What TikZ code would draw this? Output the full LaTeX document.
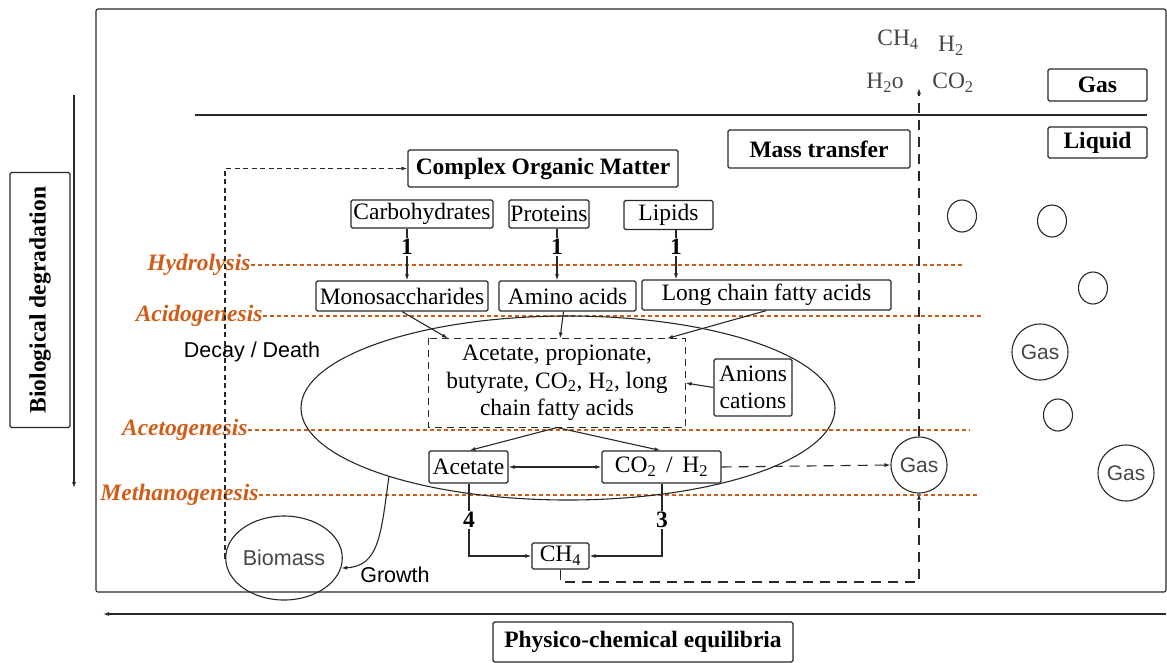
\documentclass[tikz,border=0pt]{standalone}
\usepackage{fontspec}
\setmainfont{Liberation Serif}
\setsansfont{Liberation Sans}
\usetikzlibrary{arrows.meta,shapes.geometric,calc}

\definecolor{ink}{RGB}{40,40,40}
\definecolor{greytext}{RGB}{70,70,70}
\definecolor{stage}{RGB}{208,92,24}

\begin{document}
\begin{tikzpicture}[x=1pt,y=-1pt,
  font=\fontsize{23.5}{27.5}\selectfont,
  >={Latex[length=6pt,width=4pt]},
  line width=1.1pt, draw=ink,
  box/.style={draw=ink, rounded corners=1.5pt, inner sep=0pt, align=center},
  boldbox/.style={box, font=\fontsize{23.5}{27.5}\selectfont\bfseries},
  num/.style={inner sep=1pt, font=\fontsize{23.5}{27.5}\selectfont\bfseries},
  sanslabel/.style={inner sep=0pt, font=\fontsize{21.5}{25}\selectfont\sffamily},
  gasball/.style={circle, draw=ink, minimum size=56pt, inner sep=0pt,
    text=greytext, font=\fontsize{21}{24}\selectfont\sffamily},
  bubble/.style={ellipse, draw=ink, minimum width=29pt, minimum height=32pt, inner sep=0pt},
  species/.style={inner sep=0pt, text=greytext},
  stagelabel/.style={inner sep=0pt, anchor=east, text=stage,
    font=\fontsize{23.5}{27.5}\selectfont\bfseries\itshape},
  stageline/.style={draw=stage, line width=1.1pt, dash pattern=on 4pt off 3pt},
  bigdash/.style={dash pattern=on 10pt off 7pt},
  smalldash/.style={dash pattern=on 5pt off 3.5pt},
]
\useasboundingbox (0,0) rectangle (1167,662);

% reactor frame and gas/liquid interface
\draw[rounded corners=2pt] (96,9) rectangle (1166,592);
\coordinate (ifL) at (195,115);
\coordinate (ifR) at (1147,115);
\draw (ifL) -- (ifR);

% phase labels
\node[boldbox, minimum width=99pt, minimum height=32pt] (gasbox) at (1097.5,85) {Gas};
\node[boldbox, minimum width=99pt, minimum height=31pt] (liqbox) at (1097.5,142.5) {Liquid};
\node[boldbox, minimum width=182pt, minimum height=38pt] (mass) at (819,149) {Mass transfer};

% biological degradation axis
\node[boldbox, rotate=90, minimum width=255pt, minimum height=60pt] (bio) at (40,300) {Biological degradation};
\coordinate (bioTop) at (74,95);
\coordinate (bioBot) at (74,488);
\draw[->] (bioTop) -- (bioBot);

% physico-chemical axis
\coordinate (pcR) at (1166,614);
\coordinate (pcL) at (103,614);
\draw[->] (pcR) -- (pcL);
\node[boldbox, minimum width=300pt, minimum height=40pt] (phys) at (643,642) {Physico-chemical equilibria};

% stage boundaries
\node[stagelabel] (hyd) at (251,265) {Hydrolysis};
\coordinate (hydE) at (963,265);
\draw[stageline] (hyd.east) -- (hydE);
\node[stagelabel] (acid) at (263,316) {Acidogenesis};
\coordinate (acidE) at (983,316);
\draw[stageline] (acid.east) -- (acidE);
\node[stagelabel] (aceto) at (248,430) {Acetogenesis};
\coordinate (acetoE) at (970,430);
\draw[stageline] (aceto.east) -- (acetoE);
\node[stagelabel] (meth) at (259,495) {Methanogenesis};
\coordinate (methE) at (977,495);
\draw[stageline] (meth.east) -- (methE);

% substrates
\node[boldbox, minimum width=270pt, minimum height=37pt] (com) at (543,168.5) {Complex Organic Matter};
\node[box, minimum width=142pt, minimum height=28pt] (carb) at (422,214) {Carbohydrates};
\node[box, minimum width=80pt, minimum height=28pt] (prot) at (549,214) {Proteins};
\node[box, minimum width=89pt, minimum height=29pt] (lip) at (668.5,215) {Lipids};

\node[box, minimum width=172pt, minimum height=30pt] (mono) at (402,296) {Monosaccharides};
\node[box, minimum width=137pt, minimum height=30pt] (amino) at (567.5,296) {Amino acids};
\node[box, minimum width=249pt, minimum height=30pt] (lcfa) at (766.5,295) {Long chain fatty acids};

% hydrolysis steps
\node[num] (h1) at (407,247) {1};
\node[num] (h2) at (557,247) {1};
\node[num] (h3) at (676,247) {1};
\draw (carb.south -| h1) -- (h1.north);
\draw[->] (h1.south) -- (mono.north -| h1);
\draw (prot.south -| h2) -- (h2.north);
\draw[->] (h2.south) -- (amino.north -| h2);
\draw (lip.south -| h3) -- (h3.north);
\draw[->] (h3.south) -- (lcfa.north -| h3);

% microbial cell
\node[ellipse, draw=ink, minimum width=534pt, minimum height=184pt, inner sep=0pt] (cell) at (568,408) {};

\node[box, draw=none, minimum width=256pt, minimum height=88pt] (prod) at (557,383)
  {Acetate, propionate,\\ butyrate, CO\textsubscript{2}, H\textsubscript{2}, long\\ chain fatty acids};
\draw[dash pattern=on 7pt off 5pt] (prod.north west) rectangle (prod.south east);

\node[box, minimum width=78pt, minimum height=57pt] (anion) at (753,387.5) {Anions\\ cations};

\draw[->] (mono.south) -- ($(prod.north)+(-109,0)$);
\draw[->] ($(amino.south)+(-4,0)$) -- ($(prod.north)+(3,0)$);
\draw[->] (lcfa.south) -- ($(prod.north)+(110,0)$);
\draw[->] (anion.west) -- (prod.east);

\node[box, minimum width=79pt, minimum height=32pt] (acet) at (468.5,467) {Acetate};
\node[box, minimum width=119pt, minimum height=32pt] (coh) at (661.5,467) {CO\textsubscript{2}\, / \,H\textsubscript{2}};

\draw[->] (prod.south) -- ($(acet.north)+(1,0)$);
\draw[->] (prod.south) -- ($(coh.north)+(-1,0)$);
\draw[<->] (acet.east) -- (coh.west);

% methanogenesis routes
\node[box, minimum width=57pt, minimum height=26pt] (ch4) at (560.5,556) {CH\textsubscript{4}};
\node[num] (m4) at (469,520) {4};
\node[num] (m3) at (662,520) {3};
\draw (acet.south -| m4) -- (m4.north);
\draw[->] (m4.south) |- (ch4.west);
\draw (coh.south -| m3) -- (m3.north);
\draw[->] (m3.south) |- (ch4.east);

% gas release
\node[gasball] (gasmid) at (919,465) {Gas};
\coordinate (escape) at (919,88);
\coordinate (gfloor) at (919,582);
\draw[bigdash, ->] (coh.east) -- (gasmid.west);
\draw[bigdash, ->] (ch4.south) |- (gfloor) -- (gasmid.south);
\draw[bigdash, ->] (gasmid.north) -- (escape);

\node[species] (sch4) at (898,40) {CH\textsubscript{4}};
\node[species] (sh2) at (951,46) {H\textsubscript{2}};
\node[species] (sh2o) at (885,83) {H\textsubscript{2}o};
\node[species] (sco2) at (953,83) {CO\textsubscript{2}};

% biomass loop
\node[ellipse, draw=ink, minimum width=90pt, minimum height=84pt, inner sep=0pt,
  text=greytext, font=\fontsize{21.5}{25}\selectfont\sffamily] (biomass) at (284,558) {Biomass};
\coordinate (loopc) at (225,558);
\draw[smalldash, ->] (biomass.west) -- (loopc) |- (com.west);
\draw[->] (cell.201) .. controls +(-8,58) and +(38,-2) .. (biomass.-10);

\node[sanslabel] (decay) at (252,352) {Decay / Death};
\node[sanslabel] (growth) at (395,575) {Growth};

% bubbles in the liquid
\node[bubble] (b1) at (962,216) {};
\node[bubble] (b2) at (1052,221) {};
\node[bubble] (b3) at (1093,288) {};
\node[gasball] (g2) at (1040,352) {Gas};
\node[bubble] (b4) at (1058,415) {};
\node[gasball] (g3) at (1126,473) {Gas};
\end{tikzpicture}
\end{document}
